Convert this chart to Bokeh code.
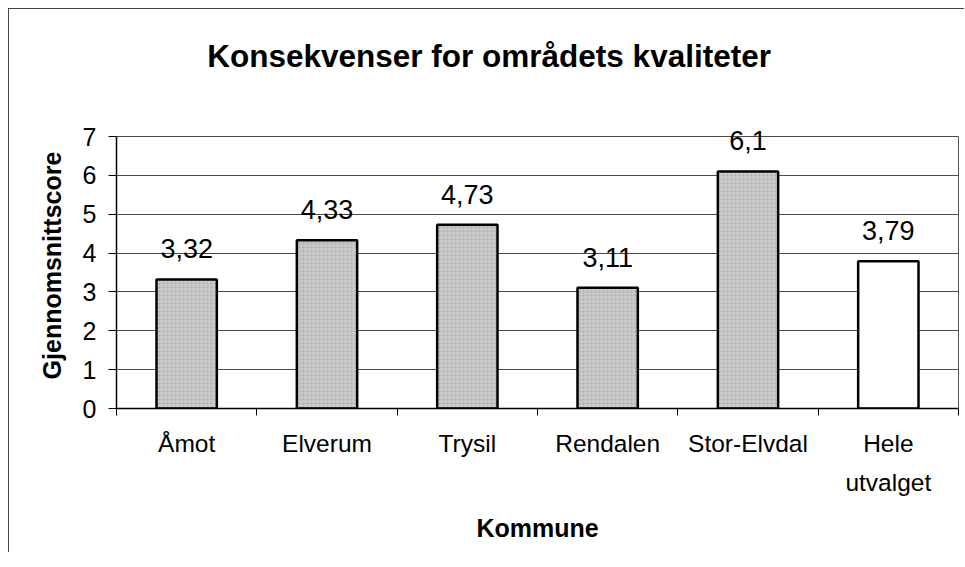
from bokeh.plotting import figure
from bokeh.models import (FactorRange, Range1d, LinearAxis, FixedTicker,
                          ColumnDataSource, LabelSet)
from bokeh.core.properties import value
from bokeh.embed import file_html
from bokeh.resources import INLINE

# ---- data ----
categories = ["Åmot", "Elverum", "Trysil", "Rendalen", "Stor-Elvdal", "Hele\nutvalget"]
scores = [3.32, 4.33, 4.73, 3.11, 6.1, 3.79]
score_labels = ["3,32", "4,33", "4,73", "3,11", "6,1", "3,79"]
bar_fills = ["#c9c9c9", "#c9c9c9", "#c9c9c9", "#c9c9c9", "#c9c9c9", "#ffffff"]
bar_hatch = ["dot", "dot", "dot", "dot", "dot", " "]
y_ticks = [0, 1, 2, 3, 4, 5, 6, 7]
y_max = 7
title_text = "Konsekvenser for områdets kvaliteter"
y_title = "Gjennomsnittscore"
x_title = "Kommune"

FONT = "Liberation Sans"

# layout constants
PLOT_H = 272          # pixel height of the 0..7 plot area
HEADROOM = 14         # extra room above 7 so the value labels are not clipped
TITLE_CENTRE = 2.655  # horizontal centre of the chart title (in category units)

src = ColumnDataSource(dict(cat=categories, score=scores, lab=score_labels,
                            fill=bar_fills, hatch=bar_hatch))

p = figure(x_range=FactorRange(factors=categories, range_padding=0),
           y_range=Range1d(0, y_max * (PLOT_H + HEADROOM) / PLOT_H),
           frame_width=842, frame_height=PLOT_H + HEADROOM,
           min_border_left=107, min_border_top=127 - HEADROOM,
           min_border_right=6, min_border_bottom=144,
           x_axis_type=None,
           output_backend="svg", toolbar_location=None)
p.styles = {"margin-left": "8px", "margin-top": "8px",
            "border-left": "1px solid #444", "border-top": "1px solid #444"}

p.outline_line_color = None
p.background_fill_color = "white"
p.border_fill_color = "white"

# chart title, drawn as the single label of an empty axis above the plot
ta = LinearAxis(ticker=FixedTicker(ticks=[TITLE_CENTRE]),
                major_label_overrides={TITLE_CENTRE: title_text},
                axis_line_color=None, major_tick_line_color=None,
                minor_tick_line_color=None,
                major_tick_out=0, major_tick_in=0,
                major_label_standoff=49,
                major_label_text_font=FONT,
                major_label_text_font_size="31.5px",
                major_label_text_font_style="bold",
                major_label_text_color="black")
p.add_layout(ta, "above")

# y axis
ya = p.yaxis[0]
ya.ticker = FixedTicker(ticks=y_ticks)
ya.bounds = (0, y_max)
ya.major_tick_out = 8
ya.major_tick_in = 0
ya.minor_tick_line_color = None
ya.axis_line_color = "black"
ya.axis_line_width = 1.5
ya.major_tick_line_color = "black"
ya.major_label_text_font = FONT
ya.major_label_text_font_size = "25px"
ya.major_label_text_color = "black"
ya.major_label_standoff = 12
ya.axis_label = y_title
ya.axis_label_text_font = FONT
ya.axis_label_text_font_size = "25px"
ya.axis_label_text_font_style = "bold"
ya.axis_label_text_color = "black"
ya.axis_label_standoff = 14

# right-hand border of the plot area
ra = LinearAxis(ticker=FixedTicker(ticks=[]), bounds=(0, y_max),
                axis_line_color="#555", axis_line_width=1,
                major_tick_line_color=None, minor_tick_line_color=None)
p.add_layout(ra, "right")

p.ygrid.ticker = FixedTicker(ticks=y_ticks)
p.ygrid.grid_line_color = "#4a4a4a"
p.ygrid.grid_line_width = 1
p.xgrid.grid_line_color = None

# x axis: labels at category centres, tick marks at category boundaries
centres = [i + 0.5 for i in range(len(categories))]
boundaries = list(range(len(categories) + 1))
xa = LinearAxis(ticker=FixedTicker(ticks=centres, minor_ticks=boundaries),
                major_label_overrides={c: name for c, name in zip(centres, categories)},
                major_tick_line_color=None, major_tick_out=7, major_tick_in=0,
                minor_tick_line_color="black", minor_tick_out=7, minor_tick_in=0,
                axis_line_color="black", axis_line_width=1.5,
                major_label_text_font=FONT,
                major_label_text_font_size="24.5px",
                major_label_text_color="black",
                major_label_text_line_height=1.45,
                major_label_standoff=14,
                axis_label=x_title,
                axis_label_text_font=FONT,
                axis_label_text_font_size="25px",
                axis_label_text_font_style="bold",
                axis_label_text_color="black",
                axis_label_standoff=15)
p.add_layout(xa, "below")

# bars
p.vbar(x="cat", top="score", width=0.43, source=src,
       fill_color="fill", line_color="black", line_width=2.5,
       hatch_pattern="hatch", hatch_color="#8a8a8a", hatch_alpha=0.5,
       hatch_scale=4, hatch_weight=1)

# value labels
p.add_layout(LabelSet(x="cat", y="score", text="lab", source=src,
                      text_align="center", text_baseline="alphabetic",
                      y_offset=21, text_font=value(FONT), text_font_size="27px",
                      text_color="black"))

open("out.html", "w").write(file_html(p, INLINE))
